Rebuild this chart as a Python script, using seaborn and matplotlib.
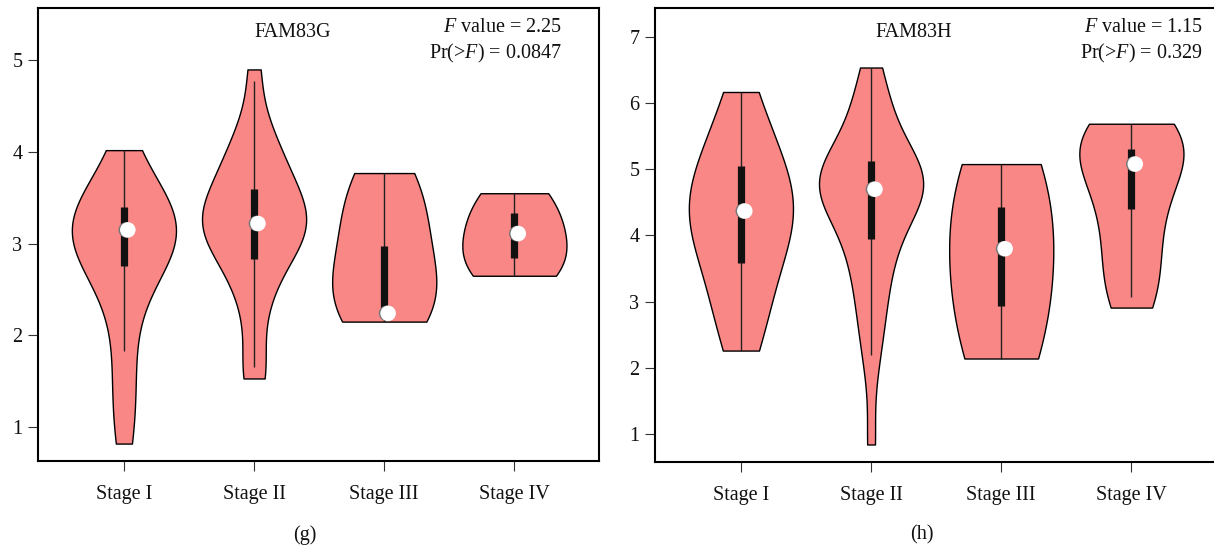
import numpy as np
import pandas as pd
import matplotlib
matplotlib.use("Agg")
import matplotlib.pyplot as plt
import seaborn as sns

# ---------------- data ----------------
stages = ["Stage I", "Stage II", "Stage III", "Stage IV"]

# FAM83G expression samples (estimated from violin shapes)
g_stage1 = [0.82, 1.15, 1.5, 1.83, 2.25, 2.5, 2.65, 2.76, 2.85, 2.95, 3.02, 3.08, 3.12, 3.15,
            3.18, 3.22, 3.27, 3.33, 3.40, 3.5, 3.62, 3.78, 4.02]
g_stage2 = [1.53, 1.65, 2.2, 2.5, 2.7, 2.83, 2.95, 3.05, 3.12, 3.18, 3.22, 3.26, 3.32, 3.4,
            3.5, 3.6, 3.7, 3.82, 3.95, 4.1, 4.3, 4.9]
g_stage3 = [2.15, 2.17, 2.2, 2.24, 2.3, 2.4, 2.5, 2.6, 2.7, 2.85, 2.98, 3.1, 3.25, 3.4,
            3.55, 3.65, 3.72, 3.77]
g_stage4 = [2.65, 2.66, 2.68, 2.72, 2.77, 2.84, 2.95, 3.05, 3.11, 3.2, 3.3, 3.42, 3.5,
            3.53, 3.55]

# FAM83H expression samples (estimated from violin shapes)
h_stage1 = [2.26, 2.45, 2.65, 2.9, 3.2, 3.45, 3.58, 3.75, 3.9, 4.05, 4.2, 4.3, 4.37,
            4.45, 4.55, 4.65, 4.75, 4.9, 5.05, 5.2, 5.4, 5.65, 5.9, 6.17]
h_stage2 = [0.84, 2.0, 2.5, 2.8, 3.1, 3.35, 3.6, 3.8, 3.94, 4.1, 4.25, 4.4, 4.55, 4.62,
            4.68, 4.72, 4.76, 4.8, 4.84, 4.88, 4.93, 5.0, 5.12, 5.25, 5.4, 5.55, 5.75,
            6.0, 6.25, 6.54]
h_stage3 = [2.14, 2.15, 2.18, 2.22, 2.35, 2.6, 2.94, 3.2, 3.45, 3.65, 3.8, 3.95, 4.2,
            4.43, 4.65, 4.85, 4.98, 5.03, 5.06, 5.08]
h_stage4 = [2.91, 2.95, 3.07, 3.3, 3.5, 3.7, 3.9, 4.1, 4.3, 4.45, 4.6, 4.8, 4.95, 5.08,
            5.15, 5.22, 5.3, 5.38, 5.45, 5.52, 5.6, 5.64, 5.67, 5.69]

# box summaries
g_q1 = [2.76, 2.83, 2.20, 2.84]
g_q3 = [3.40, 3.60, 2.98, 3.33]
g_med = [3.15, 3.22, 2.24, 3.11]
g_wlo = [1.83, 1.65, 2.15, 2.65]
g_whi = [4.02, 4.77, 3.77, 3.55]

h_q1 = [3.58, 3.94, 2.94, 4.40]
h_q3 = [5.05, 5.12, 4.43, 5.31]
h_med = [4.37, 4.70, 3.80, 5.08]
h_wlo = [2.26, 2.20, 2.14, 3.07]
h_whi = [6.17, 6.54, 5.08, 5.69]

titles = ["FAM83G", "FAM83H"]
f_values = ["2.25", "1.15"]
p_values = ["0.0847", "0.329"]
captions = ["(g)", "(h)"]

# ---------------- style ----------------
sns.set_theme(style="white")
plt.rcParams["font.family"] = ["Liberation Serif", "DejaVu Serif"]
plt.rcParams["mathtext.fontset"] = "custom"
plt.rcParams["mathtext.rm"] = "Liberation Serif"
plt.rcParams["mathtext.it"] = "Liberation Serif:italic"

FILL = "#F98785"
FS = 14.5
TXT = "#111111"

fig = plt.figure(figsize=(12.14, 5.5), dpi=100)
W, H = 1214, 550
ax_specs = [(38, 8, 599, 461), (655, 8, 1216, 462)]

# kde smoothing per violin (style)
bw_g = [1.0, 0.8, 1.4, 1.6]
bw_h = [1.2, 0.8, 1.8, 1.1]

panels = [
    ([g_stage1, g_stage2, g_stage3, g_stage4], g_q1, g_q3, g_med, g_wlo, g_whi,
     (0.63, 5.57), [1, 2, 3, 4, 5], 0.934, 0.4545, bw_g),
    ([h_stage1, h_stage2, h_stage3, h_stage4], h_q1, h_q3, h_med, h_wlo, h_whi,
     (0.575, 7.44), [1, 2, 3, 4, 5, 6, 7], 0.977, 0.462, bw_h),
]

for i, (spec, panel) in enumerate(zip(ax_specs, panels)):
    x0, y0, x1, y1 = spec
    ax = fig.add_axes([x0 / W, 1 - y1 / H, (x1 - x0) / W, (y1 - y0) / H])
    samples, q1, q3, med, wlo, whi, ylim, yticks, fx, tx, bws = panel
    for s, vals, bw in zip(stages, samples, bws):
        df = pd.DataFrame({"stage": [s] * len(vals), "value": vals})
        sns.violinplot(data=df, x="stage", y="value", order=stages, cut=0,
                       density_norm="width", width=0.8, inner=None, color=FILL,
                       saturation=1, linecolor="black", linewidth=1.0,
                       bw_adjust=bw, ax=ax)
    xs = np.arange(len(stages))
    ax.vlines(xs, wlo, whi, color="#222222", lw=1.0, zorder=3)
    ax.vlines(xs, q1, q3, color="#111111", lw=5.2, zorder=4, capstyle="butt")
    ax.scatter(xs + 0.018, med, s=125, color="#777777", edgecolor="none", zorder=5)
    ax.scatter(xs + 0.03, med, s=125, color="white", edgecolor="none", zorder=6)

    ax.set_xlim(-0.66, 3.65)
    ax.set_ylim(*ylim)
    ax.set_yticks(yticks)
    ax.set_xlabel("")
    ax.set_ylabel("")
    for sp in ax.spines.values():
        sp.set_linewidth(1.5)
        sp.set_color("black")
        sp.set_visible(True)
    ax.tick_params(axis="both", which="major", direction="out", length=7.2,
                   width=0.8, color="#333333", labelsize=FS, labelcolor=TXT,
                   left=True, bottom=True)
    ax.tick_params(axis="x", pad=10)
    ax.tick_params(axis="y", pad=4)

    ax.text(tx, 0.947, titles[i], transform=ax.transAxes, ha="center", va="center",
            fontsize=FS, color=TXT)
    ax.text(fx, 0.958, r"$F$ value = " + f_values[i], transform=ax.transAxes,
            ha="right", va="center", fontsize=FS, color=TXT)
    ax.text(fx, 0.900, r"Pr(>$F$) = " + p_values[i], transform=ax.transAxes,
            ha="right", va="center", fontsize=FS, color=TXT)

fig.text(305 / W, 1 - 535 / H, captions[0], ha="center", va="center", fontsize=FS,
         color=TXT)
fig.text(922 / W, 1 - 535 / H, captions[1], ha="center", va="center", fontsize=FS,
         color=TXT)

fig.savefig("out.png", dpi=100)
